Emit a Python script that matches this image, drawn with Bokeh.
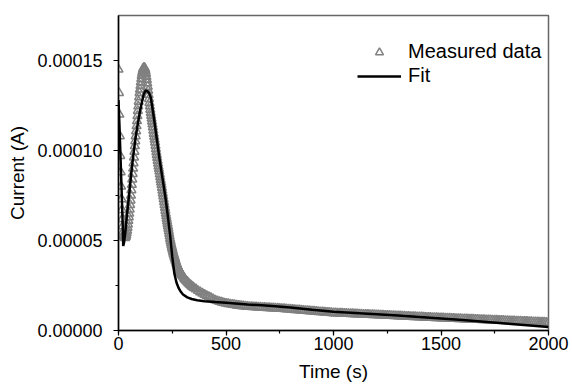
from bokeh.plotting import figure
from bokeh.models import (Range1d, SingleIntervalTicker, PrintfTickFormatter,
                          Legend, LegendItem, ColumnDataSource)
from bokeh.embed import file_html
from bokeh.resources import INLINE

# ---- Measured data (time in s, current in microamps) ----
t_meas = (list(range(0, 40, 2)) + list(range(40, 300, 2)) + list(range(300, 350, 5))
          + list(range(350, 2001, 10)))
i_meas_uA = [
    # 0 .. 38 (step 2)
    145, 132, 120, 108, 97, 88, 80, 73, 67, 62, 58, 55, 53.3, 52.2, 51.7, 51.5, 51.7, 52.2, 53, 54.2,
    # 40 .. 298 (step 2)
    55.5, 57.2, 59, 61, 63, 65, 67.3, 69.8, 72.3, 75,
    78, 81, 84, 87, 90, 93, 96.2, 99.4, 102.5, 105.2,
    108, 110.8, 113.6, 116.4, 119.2, 122, 124.6, 127.2, 129.7, 132,
    134, 136, 138, 139.9, 141.6, 143, 144.2, 145.1, 145.7, 146,
    146, 145.6, 145, 144.1, 142.7, 141, 139.3, 137.4, 135.5, 133.3,
    131, 128.7, 126.5, 124.6, 122.7, 121, 119.4, 117.8, 116.2, 114.6,
    113, 111.2, 109.4, 107.7, 106.1, 104.5, 102.7, 100.9, 99.2, 97.6,
    96, 94.4, 92.8, 91.3, 89.9, 88.5, 86.9, 85.3, 83.8, 82.4,
    81, 79.4, 77.8, 76.2, 74.6, 73, 71.4, 69.8, 68.2, 66.6,
    65, 63.6, 62.2, 60.8, 59.4, 58, 56.6, 55.2, 53.8, 52.4,
    51, 49.8, 48.6, 47.5, 46.5, 45.5, 44.5, 43.5, 42.6, 41.8,
    41, 40.2, 39.4, 38.6, 37.8, 37, 36.4, 35.8, 35.2, 34.6,
    34, 33.6, 33.2, 32.8, 32.4, 32, 31.6, 31.2, 30.8, 30.4,
    # 300 .. 345 (step 5)
    30, 29, 28.3, 27.6, 27, 26.3, 25.7, 25.2, 24.7, 24.2,
    # 350 .. 2000 (step 10)
    23.7, 23.0, 22.1, 21.3, 20.6, 19.9, 19.3, 18.7, 18.1, 17.5,
    16.8, 16.4, 16.0, 15.6, 15.3, 15.0, 14.8, 14.6, 14.4, 14.2,
    14.0, 13.85, 13.7, 13.55, 13.4, 13.3, 13.2, 13.12, 13.05, 12.97,
    12.9, 12.83, 12.76, 12.69, 12.62, 12.55, 12.48, 12.41, 12.34, 12.27,
    12.2, 12.1, 12.0, 11.9, 11.8, 11.7, 11.6, 11.5, 11.4, 11.3,
    11.2, 11.1, 11.0, 10.9, 10.8, 10.7, 10.6, 10.5, 10.4, 10.3,
    10.2, 10.1, 10.0, 9.9, 9.8, 9.7, 9.65, 9.6, 9.55, 9.5,
    9.4, 9.35, 9.3, 9.25, 9.2, 9.15, 9.1, 9.05, 8.95, 8.9,
    8.85, 8.8, 8.75, 8.7, 8.65, 8.6, 8.55, 8.5, 8.4, 8.35,
    8.3, 8.25, 8.2, 8.1, 8.05, 8.0, 7.95, 7.9, 7.85, 7.8,
    7.7, 7.65, 7.6, 7.55, 7.5, 7.45, 7.4, 7.3, 7.25, 7.2,
    7.15, 7.1, 7.05, 7.0, 6.95, 6.9, 6.85, 6.8, 6.75, 6.7,
    6.65, 6.6, 6.55, 6.5, 6.45, 6.4, 6.35, 6.3, 6.25, 6.2,
    6.15, 6.1, 6.05, 6.0, 5.95, 5.9, 5.85, 5.8, 5.75, 5.7,
    5.65, 5.6, 5.55, 5.5, 5.45, 5.4, 5.35, 5.3, 5.25, 5.2,
    5.15, 5.1, 5.05, 5.0, 4.95, 4.9, 4.85, 4.8, 4.75, 4.7,
    4.65, 4.6, 4.55, 4.5, 4.45, 4.4,
]

# ---- Fit curve ----
t_fit = [0, 5, 10, 15, 20, 22, 26, 32, 40, 50, 60, 70, 80, 90, 100, 110, 118, 126,
         134, 142, 150, 158, 166, 174, 182, 190, 200, 210, 220, 230, 240, 250, 260,
         270, 280, 290, 300, 320, 340, 366, 400, 450, 500, 600, 700, 800, 900, 1000,
         1100, 1200, 1300, 1400, 1500, 1600, 1700, 1800, 1900, 2000]
i_fit_uA = [128, 112, 94, 76, 57, 47, 49, 55, 65, 76, 88, 98.5, 107.5, 115, 122, 127.5,
            131.5, 133.3, 133, 132, 129.5, 123.5, 117, 110, 103, 96, 88, 80.5, 72.5,
            63, 53, 41, 31.5, 26.5, 23.5, 21.5, 20, 18.4, 17.5, 16.8, 16.3, 15.8, 15.4,
            14.5, 13.7, 12.8, 11.5, 10.4, 9.7, 9.0, 8.3, 7.5, 6.7, 5.8, 4.9, 3.9, 2.9, 1.9]

x_ticks_interval = 500
y_ticks_interval = 0.00005

meas = ColumnDataSource(dict(t=t_meas, i=[v * 1e-6 for v in i_meas_uA]))
fit = ColumnDataSource(dict(t=t_fit, i=[v * 1e-6 for v in i_fit_uA]))

FONT = "Liberation Sans"

p = figure(width=572, height=388, x_range=Range1d(0, 2000), y_range=Range1d(0, 0.000175),
           output_backend="svg", toolbar_location=None,
           min_border_left=118, min_border_right=24, min_border_top=15, min_border_bottom=58)
p.xgrid.visible = False
p.ygrid.visible = False
p.outline_line_color = "#666666"
p.outline_line_width = 1.5
p.background_fill_color = "white"
p.border_fill_color = "white"

r_meas = p.scatter("t", "i", source=meas, marker="triangle", size=9,
                   fill_color=None, line_color="#808080", line_width=1.5)
r_fit = p.line("t", "i", source=fit, line_color="black", line_width=2.5)

p.xaxis.ticker = SingleIntervalTicker(interval=x_ticks_interval, num_minor_ticks=2)
p.yaxis.ticker = SingleIntervalTicker(interval=y_ticks_interval, num_minor_ticks=2)
p.yaxis.formatter = PrintfTickFormatter(format="%.5f")
p.xaxis.axis_label = "Time (s)"
p.yaxis.axis_label = "Current (A)"

for ax in (p.xaxis[0], p.yaxis[0]):
    ax.axis_line_color = "black"
    ax.axis_line_width = 1.5
    ax.major_tick_line_color = "black"
    ax.minor_tick_line_color = "black"
    ax.major_tick_line_width = 1.2
    ax.minor_tick_line_width = 1.2
    ax.major_tick_in = 0
    ax.major_tick_out = 5
    ax.minor_tick_in = 0
    ax.minor_tick_out = 3
    ax.major_label_text_font = FONT
    ax.major_label_text_font_size = "18px"
    ax.major_label_text_color = "black"
    ax.axis_label_text_font = FONT
    ax.axis_label_text_font_size = "19px"
    ax.axis_label_text_font_style = "normal"
    ax.axis_label_text_color = "black"

p.xaxis.major_label_standoff = 1
p.xaxis.axis_label_standoff = 8
p.yaxis.major_label_standoff = 11
p.yaxis.axis_label_standoff = 6

legend = Legend(items=[LegendItem(label="Measured data", renderers=[r_meas]),
                       LegendItem(label="Fit", renderers=[r_fit])],
                location=(239, 243))
legend.glyph_width = 44
legend.glyph_height = 20
legend.label_height = 20
legend.label_standoff = 7
legend.spacing = 1
legend.padding = 0
legend.margin = 0
legend.border_line_color = None
legend.background_fill_alpha = 0
legend.label_text_font = FONT
legend.label_text_font_size = "20px"
legend.label_text_color = "black"
p.add_layout(legend)

open("out.html", "w").write(file_html(p, INLINE))
